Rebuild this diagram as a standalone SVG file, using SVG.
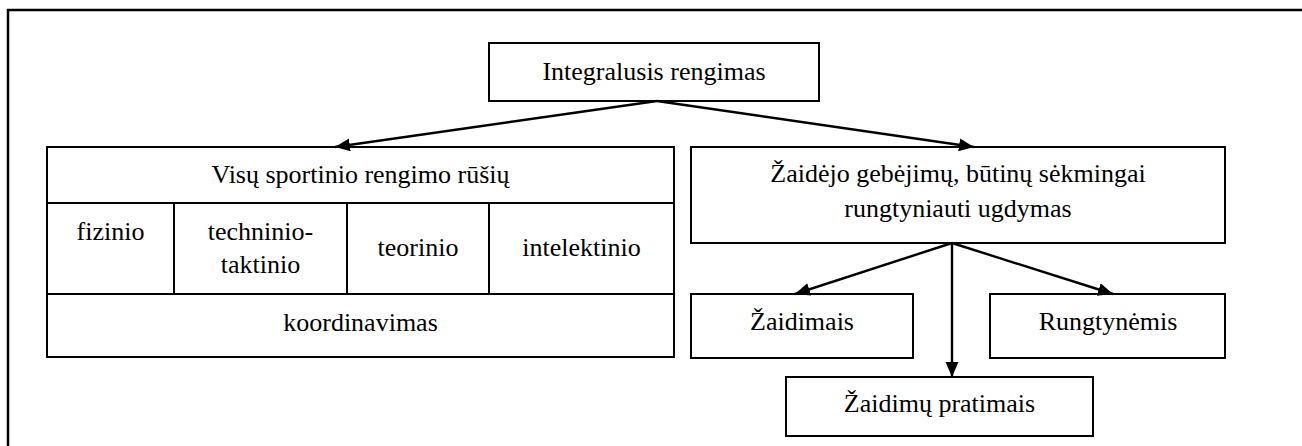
<svg xmlns="http://www.w3.org/2000/svg" width="1302" height="446" viewBox="0 0 1302 446">
<style>
.box{fill:#fff;stroke:#000;stroke-width:2}
.div{stroke:#000;stroke-width:2;fill:none}
text{font-family:'Liberation Serif','Times New Roman',serif;font-size:26px;fill:#000;text-anchor:middle}
.edge{stroke:#000;stroke-width:2.4;fill:none;marker-end:url(#ah)}
</style>
<defs>
<marker id="ah" markerUnits="userSpaceOnUse" markerWidth="17" markerHeight="14" refX="15" refY="6.5" orient="auto">
<path d="M0,0 L15,6.5 L0,13 z" fill="#000"/>
</marker>
</defs>
<rect width="1302" height="446" fill="#fff"/>
<path d="M8,446 L8,10 L1302,10" fill="none" stroke="#000" stroke-width="2.5"/>
<g id="n-top">
<rect class="box" x="489" y="43" width="330" height="58"/>
<text x="654" y="80">Integralusis rengimas</text>
</g>
<g id="n-left">
<rect class="box" x="47" y="147" width="627" height="210"/>
<line class="div" x1="47" y1="203" x2="674" y2="203"/>
<line class="div" x1="47" y1="294" x2="674" y2="294"/>
<line class="div" x1="174" y1="203" x2="174" y2="294"/>
<line class="div" x1="347" y1="203" x2="347" y2="294"/>
<line class="div" x1="489" y1="203" x2="489" y2="294"/>
<text x="360.5" y="183">Visų sportinio rengimo rūšių</text>
<text x="110.5" y="240">fizinio</text>
<text x="260.5" y="240">techninio-</text>
<text x="260.5" y="273">taktinio</text>
<text x="418" y="256">teorinio</text>
<text x="581.5" y="256">intelektinio</text>
<text x="360.5" y="331">koordinavimas</text>
</g>
<g id="n-right">
<rect class="box" x="691" y="147" width="534" height="96"/>
<text x="958" y="182">Žaidėjo gebėjimų, būtinų sėkmingai</text>
<text x="958" y="217">rungtyniauti ugdymas</text>
</g>
<g id="n-zaidimais">
<rect class="box" x="691" y="294" width="222" height="64"/>
<text x="802" y="330">Žaidimais</text>
</g>
<g id="n-rungtynemis">
<rect class="box" x="990" y="294" width="235" height="64"/>
<text x="1108" y="330">Rungtynėmis</text>
</g>
<g id="n-pratimais">
<rect class="box" x="786" y="377" width="307" height="59"/>
<text x="939.5" y="412">Žaidimų pratimais</text>
</g>
<g id="connectors">
<line class="edge" x1="657" y1="101" x2="335" y2="147"/>
<line class="edge" x1="657" y1="101" x2="974" y2="147"/>
<line class="edge" x1="952" y1="243" x2="795" y2="294"/>
<line class="edge" x1="952" y1="243" x2="1113" y2="294"/>
<line class="edge" x1="952" y1="243" x2="952" y2="377"/>
</g>
</svg>
